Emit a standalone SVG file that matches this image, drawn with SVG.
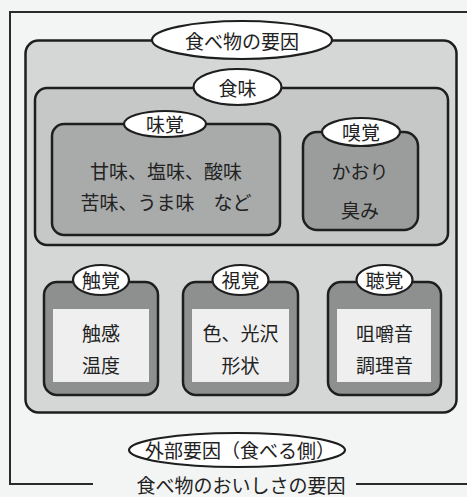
<svg xmlns="http://www.w3.org/2000/svg" width="467" height="497" viewBox="0 0 467 497">
<style>
.t{font-family:"Noto Sans CJK JP","Noto Sans",sans-serif;font-size:19px;fill:#222;text-anchor:middle;dominant-baseline:central}
.box{stroke:#1e1e1e;stroke-width:2.5}
.ell{fill:#fff;stroke:#1e1e1e;stroke-width:2.2}
.frame{fill:none;stroke:#2a2a2a;stroke-width:2}
</style>
<rect x="0" y="0" width="467" height="497" fill="#f3f4f4"/>
<g id="frame">
<path class="frame" d="M467 12 H10 V484 H93"/>
<path class="frame" d="M356 484 H467"/>
<text class="t" x="241" y="484">食べ物のおいしさの要因</text>
</g>
<g id="food-factors">
<rect class="box" x="25.5" y="40.5" width="431" height="372" rx="13" fill="#d5d7d7"/>
</g>
<g id="shokumi">
<rect class="box" x="35" y="88" width="413" height="157" rx="12" fill="#c6c8c8"/>
</g>
<g id="mikaku">
<rect class="box" x="52" y="124" width="228" height="111" rx="12" fill="#a9abab"/>
<text class="t" x="166" y="170">甘味、塩味、酸味</text>
<text class="t" x="166" y="201">苦味、うま味　など</text>
</g>
<g id="kyukaku">
<rect class="box" x="303" y="132" width="115" height="98" rx="14" fill="#9b9d9d"/>
<text class="t" x="360" y="170">かおり</text>
<text class="t" x="360" y="209">臭み</text>
</g>
<g id="shokkaku">
<rect class="box" x="44" y="282" width="114" height="113" rx="13" fill="#8e9090"/>
<rect x="53" y="309" width="96" height="73" fill="#efefef"/>
<text class="t" x="101" y="332">触感</text>
<text class="t" x="101" y="364">温度</text>
</g>
<g id="shikaku">
<rect class="box" x="183" y="282" width="115" height="113" rx="13" fill="#8e9090"/>
<rect x="192" y="309" width="97" height="73" fill="#efefef"/>
<text class="t" x="240.5" y="332">色、光沢</text>
<text class="t" x="240.5" y="364">形状</text>
</g>
<g id="choukaku">
<rect class="box" x="328" y="282" width="113" height="113" rx="13" fill="#8e9090"/>
<rect x="337" y="309" width="94" height="73" fill="#efefef"/>
<text class="t" x="384.5" y="332">咀嚼音</text>
<text class="t" x="384.5" y="364">調理音</text>
</g>
<g id="labels">
<ellipse class="ell" cx="242" cy="40" rx="90" ry="19"/>
<text class="t" x="242" y="40">食べ物の要因</text>
<ellipse class="ell" cx="237.5" cy="87" rx="44" ry="18"/>
<text class="t" x="237.5" y="87">食味</text>
<ellipse class="ell" cx="165" cy="124" rx="41" ry="13"/>
<text class="t" x="165" y="123">味覚</text>
<ellipse class="ell" cx="361" cy="132" rx="39" ry="14"/>
<text class="t" x="361" y="131">嗅覚</text>
<ellipse class="ell" cx="101" cy="280" rx="28" ry="15"/>
<text class="t" x="101" y="279">触覚</text>
<ellipse class="ell" cx="240.5" cy="280" rx="28" ry="15"/>
<text class="t" x="240.5" y="279">視覚</text>
<ellipse class="ell" cx="384.5" cy="280" rx="28" ry="15"/>
<text class="t" x="384.5" y="279">聴覚</text>
<ellipse class="ell" cx="237" cy="450" rx="108" ry="17"/>
<text class="t" x="240" y="449">外部要因（食べる側）</text>
</g>
<g id="connectors"></g>
</svg>
